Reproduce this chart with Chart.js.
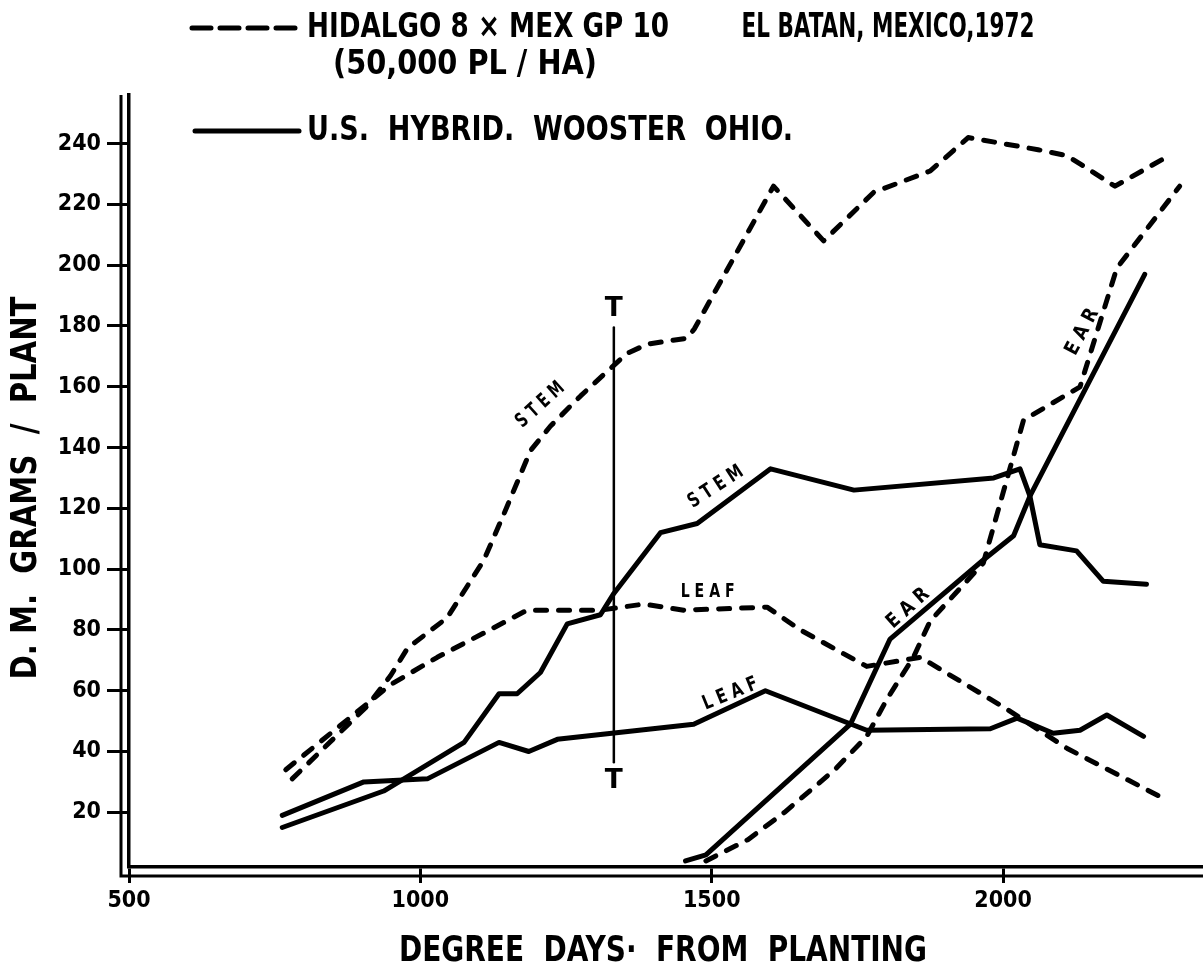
<!DOCTYPE html>
<html>
<head>
<meta charset="utf-8">
<script src="https://cdn.jsdelivr.net/npm/chart.js@4.4.0/dist/chart.umd.min.js"></script>
<style>
  html, body { margin: 0; padding: 0; background: #fff; }
  #wrap { width: 1203px; height: 980px; position: relative; }
</style>
</head>
<body>
<div id="wrap"><canvas id="dmChart"></canvas></div>
<script>
// Dry matter (g / plant) against degree days from planting
// Hidalgo 8 x Mex GP 10, El Batan 1972 (dashed)
const hidalgoStemDays = [780, 909, 949, 978, 1046, 1109, 1143, 1189, 1223, 1275, 1326, 1355, 1389, 1458, 1470, 1606, 1692, 1778, 1875, 1940, 2000, 2060, 2110, 2192, 2275];
const hidalgoStemDM   = [31, 55, 65, 74, 84, 103, 118, 139, 147, 157, 166, 171, 174, 176, 179, 226, 208, 224, 231, 242, 240, 238, 236, 226, 235];

const hidalgoLeafDays = [769, 949, 1029, 1109, 1183, 1309, 1383, 1452, 1595, 1652, 1766, 1858, 2006, 2110, 2281];
const hidalgoLeafDM   = [34, 62, 71, 79, 86.5, 86.5, 88.5, 86.5, 87.5, 80, 68, 71, 54, 41, 24];

const hidalgoEarDays = [1490, 1562, 1625, 1711, 1766, 1800, 1846, 1875, 1966, 2035, 2132, 2195, 2303];
const hidalgoEarDM   = [4, 11, 20, 34, 45, 57, 71, 83, 102, 149, 160, 199, 226];

// U.S. hybrid, Wooster Ohio (solid)
const usStemDays = [763, 937, 1075, 1135, 1166, 1206, 1252, 1309, 1332, 1412, 1475, 1601, 1744, 1984, 2029, 2046, 2063, 2126, 2172, 2246];
const usStemDM   = [15, 27, 43, 59, 59, 66, 82, 85, 92, 112, 115, 133, 126, 130, 133, 124, 108, 106, 96, 95];

const usLeafDays = [763, 903, 1012, 1135, 1186, 1235, 1469, 1592, 1766, 1978, 2024, 2086, 2132, 2178, 2241];
const usLeafDM   = [19, 30, 31, 43, 40, 44, 49, 60, 47, 47.5, 51, 46, 47, 52, 45];

const usEarDays = [1455, 1490, 1738, 1806, 1966, 2018, 2046, 2243];
const usEarDM   = [4, 6, 49, 77, 103, 111, 124, 197];

// LSD bar
const lsdDays = [1332, 1332];
const lsdDM   = [36.5, 179.5];

const xTicks = [500, 1000, 1500, 2000];
const yTicks = [20, 40, 60, 80, 100, 120, 140, 160, 180, 200, 220, 240];

const pts = (xs, ys) => xs.map((x, i) => ({ x: x, y: ys[i] }));

const INK = '#000';
const FONT = '"DejaVu Sans Condensed", "DejaVu Sans", sans-serif';
const DASH = [11, 12];

function line(data, dashed, width) {
  return {
    data: data,
    borderColor: INK,
    borderWidth: width || 5,
    borderDash: dashed ? DASH : [],
    borderCapStyle: 'round',
    borderJoinStyle: 'round',
    pointRadius: 0,
    tension: 0,
    fill: false
  };
}

// draw text squeezed/stretched to a given width
function fitText(ctx, text, x, y, width, font) {
  ctx.save();
  ctx.font = font;
  const w = ctx.measureText(text).width;
  ctx.translate(x, y);
  ctx.scale(width / w, 1);
  ctx.textAlign = 'center';
  ctx.textBaseline = 'middle';
  ctx.fillText(text, 0, 0);
  ctx.restore();
}

// double axis lines
const frame = {
  id: 'frame',
  afterDraw(chart) {
    const { ctx, chartArea: a } = chart;
    ctx.save();
    ctx.strokeStyle = INK;
    ctx.lineWidth = 3;
    ctx.beginPath();
    ctx.moveTo(a.left - 8, a.top);
    ctx.lineTo(a.left - 8, a.bottom + 9);
    ctx.lineTo(a.right, a.bottom + 9);
    ctx.stroke();
    ctx.restore();
  }
};

// curve names, LSD "T" ends, legend and axis titles
const notes = {
  id: 'notes',
  afterDraw(chart) {
    const { ctx } = chart;
    const xs = chart.scales.x, ys = chart.scales.y;
    ctx.save();
    ctx.fillStyle = INK;

    const curveLabels = [
      ['S T E M', 1206, 154, -42, 58],
      ['S T E M', 1507, 127, -33, 62],
      ['L E A F', 1493, 92.4, 0, 54],
      ['L E A F', 1532, 58.9, -22, 58],
      ['E A R', 1837, 87.1, -42, 50],
      ['E A R', 2136, 178, -62, 50]
    ];
    curveLabels.forEach(([t, dx, dy, ang, w]) => {
      ctx.save();
      ctx.translate(xs.getPixelForValue(dx), ys.getPixelForValue(dy));
      ctx.rotate(ang * Math.PI / 180);
      fitText(ctx, t, 0, 0, w, 'bold 20px ' + FONT);
      ctx.restore();
    });

    // LSD end marks
    const tx = xs.getPixelForValue(lsdDays[0]);
    fitText(ctx, 'T', tx, ys.getPixelForValue(185.5), 18, 'bold 27px ' + FONT);
    fitText(ctx, 'T', tx, ys.getPixelForValue(30.3), 18, 'bold 27px ' + FONT);

    // legend
    ctx.strokeStyle = INK;
    ctx.lineWidth = 5;
    ctx.lineCap = 'round';
    ctx.setLineDash([19, 9]);
    ctx.beginPath();
    ctx.moveTo(192, 28); ctx.lineTo(300, 28);
    ctx.stroke();
    ctx.setLineDash([]);
    ctx.beginPath();
    ctx.moveTo(195, 131); ctx.lineTo(299, 131);
    ctx.stroke();

    const lf = 'bold 33px ' + FONT;
    fitText(ctx, 'HIDALGO 8 \u00d7 MEX GP 10', 488, 28, 362, lf);
    fitText(ctx, 'EL BATAN, MEXICO,1972', 888, 28, 293, lf);
    fitText(ctx, '(50,000 PL / HA)', 465, 65, 264, lf);
    fitText(ctx, 'U.S.  HYBRID.  WOOSTER  OHIO.', 550, 131, 486, lf);

    // axis titles
    fitText(ctx, 'DEGREE  DAYS\u00b7  FROM  PLANTING', 663, 952, 528, 'bold 36px ' + FONT);
    ctx.save();
    ctx.translate(27, 488);
    ctx.rotate(-Math.PI / 2);
    fitText(ctx, 'D. M.  GRAMS  /  PLANT', 0, 0, 383, 'bold 36px ' + FONT);
    ctx.restore();

    ctx.restore();
  }
};

const tickFont = { family: FONT, size: 23, weight: 'bold' };

new Chart(document.getElementById('dmChart'), {
  type: 'line',
  data: {
    datasets: [
      line(pts(hidalgoStemDays, hidalgoStemDM), true),
      line(pts(hidalgoLeafDays, hidalgoLeafDM), true),
      line(pts(hidalgoEarDays, hidalgoEarDM), true),
      line(pts(usStemDays, usStemDM), false),
      line(pts(usLeafDays, usLeafDM), false),
      line(pts(usEarDays, usEarDM), false),
      line(pts(lsdDays, lsdDM), false, 2.5)
    ]
  },
  options: {
    responsive: true,
    maintainAspectRatio: false,
    animation: false,
    layout: { padding: { top: 95, left: 0, right: 0, bottom: 0 } },
    plugins: { legend: { display: false }, tooltip: { enabled: false } },
    scales: {
      x: {
        type: 'linear',
        min: 500,
        max: 2343,
        afterBuildTicks: s => { s.ticks = xTicks.map(v => ({ value: v })); },
        afterFit: s => { s.height = 113; },
        grid: { drawOnChartArea: false, tickLength: 16, tickWidth: 3, tickColor: INK },
        border: { display: true, color: INK, width: 3.5 },
        ticks: { color: INK, font: tickFont, padding: 4, maxRotation: 0, callback: v => String(v) }
      },
      y: {
        type: 'linear',
        min: 2,
        max: 256,
        afterBuildTicks: s => { s.ticks = yTicks.map(v => ({ value: v })); },
        afterFit: s => { s.width = 129; },
        grid: { drawOnChartArea: false, tickLength: 22, tickWidth: 3, tickColor: INK },
        border: { display: true, color: INK, width: 3.5 },
        ticks: { color: INK, font: tickFont, padding: 6 }
      }
    }
  },
  plugins: [frame, notes]
});
</script>
</body>
</html>
